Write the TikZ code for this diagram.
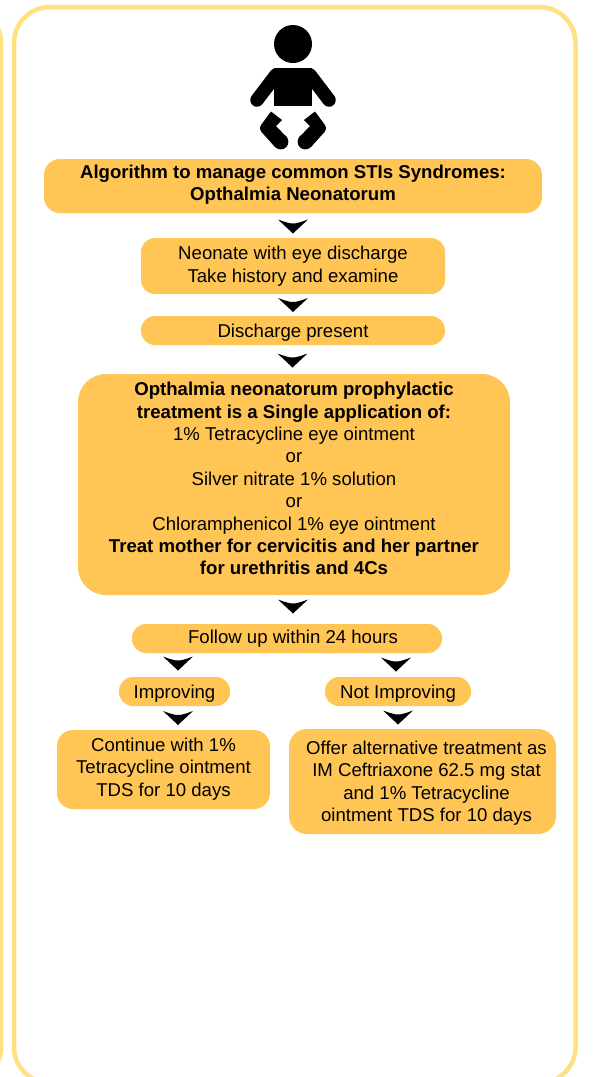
\documentclass[tikz,border=0pt]{standalone}
\usepackage{fontspec}
\setmainfont{Liberation Sans}
\usetikzlibrary{calc}
\definecolor{boxfill}{HTML}{FFC655}
\definecolor{frameline}{HTML}{FFE082}
\tikzset{
  x=1pt,y=-1pt,
  flowbox/.style={fill=boxfill,draw=none,inner sep=0pt,align=center,text=black,
    font=\fontsize{18.6}{22.4}\selectfont},
  lowtext/.style={text height=13pt,text depth=0pt},
  frame/.style={draw=frameline,line width=4.5pt,rounded corners=36pt},
  chevron/.pic={\fill[black] (-15,-7) .. controls (-8,-4.5) and (-4,-3) .. (0,-3) .. controls (4,-3) and (8,-4.5) .. (15,-7) -- (0,7) -- cycle;},
  limb/.style={line width=13.5pt,draw=black}
}
\begin{document}
\begin{tikzpicture}
\useasboundingbox (0,0) rectangle (595,1077);
\clip (0,0) rectangle (595,1077);
\fill[white] (0,0) rectangle (595,1077);
% frames
\draw[frame] (14,7) rectangle (575.5,1083);
\draw[frame] (-40,7) rectangle (1,1083);
% baby
\fill[black] (293,44) circle (19);
\fill[black] (274,106) -- (312,106) -- (312,68) -- (274,68) -- cycle;
\draw[limb,line cap=round,line join=round] (257,100) -- (276,75) -- (310,75) -- (329,100);
\fill[black] (271,111.5) -- (282,120) -- (276,126) -- (287,137.5) -- (275,147) -- (261.5,132) .. controls (259.5,129) and (259.5,127) .. (261,125) -- cycle;
\fill[black] (280.7,141.7) circle (7.7);
\fill[black] (315,111.5) -- (304,120) -- (310,126) -- (299,137.5) -- (311,147) -- (324.5,132) .. controls (326.5,129) and (326.5,127) .. (325,125) -- cycle;
\fill[black] (305.3,141.7) circle (7.7);
% boxes
\node[flowbox,minimum width=498pt,minimum height=54pt,rounded corners=16pt] (title) at (293,186) {\bfseries Algorithm to manage common STIs Syndromes:\\\bfseries Opthalmia Neonatorum\rule[-7pt]{0pt}{0pt}};
\node[flowbox,minimum width=304pt,minimum height=56pt,rounded corners=14pt] (neonate) at (293,266) {Neonate with eye discharge\\Take history and examine};
\node[flowbox,lowtext,minimum width=304pt,minimum height=29pt,rounded corners=14pt] (present) at (293,330.5) {Discharge present};
\node[flowbox,minimum width=432pt,minimum height=221pt,rounded corners=28pt] (treat) at (294,484.5) {\bfseries Opthalmia neonatorum prophylactic\\\bfseries treatment is a Single application of:\\1\% Tetracycline eye ointment\\or\\Silver nitrate 1\% solution\\or\\Chloramphenicol 1\% eye ointment\\\bfseries Treat mother for cervicitis and her partner\\\bfseries for urethritis and 4Cs\\[-10.4pt]\mbox{}};
\node[flowbox,minimum width=310pt,minimum height=29pt,rounded corners=14pt] (follow) at (287,638.5) {\hspace*{12pt}Follow up within 24 hours};
\node[flowbox,lowtext,minimum width=111pt,minimum height=29pt,rounded corners=14pt] (improving) at (174.5,691.5) {Improving};
\node[flowbox,lowtext,minimum width=146pt,minimum height=29pt,rounded corners=14pt] (notimproving) at (398,691.5) {Not Improving};
\node[flowbox,minimum width=213pt,minimum height=79pt,rounded corners=16pt] (continue) at (163.5,769.5) {Continue with 1\%\\Tetracycline ointment\\TDS for 10 days\\[-17.4pt]\mbox{}};
\node[flowbox,minimum width=267pt,minimum height=105pt,rounded corners=18pt] (offer) at (422.5,781.5) {\rule{0pt}{16.5pt}\hspace*{8pt}Offer alternative treatment as\\\hspace*{8pt}IM Ceftriaxone 62.5 mg stat\\\hspace*{8pt}and 1\% Tetracycline\\\hspace*{8pt}ointment TDS for 10 days};
% connectors (arrowheads between boxes)
\pic at ($(title.south)!.5!(neonate.north)+(0,1)$) {chevron};
\pic at ($(neonate.south)!.5!(present.north)$) {chevron};
\pic at ($(present.south)!.5!(treat.north)+(-1,1)$) {chevron};
\pic at ($(treat.south)!.5!(follow.north)+(2.5,-3)$) {chevron};
\pic at ($(follow.south -| improving.north)!.5!(improving.north)+(3.5,-1.5)$) {chevron};
\pic at ($(follow.south -| notimproving.north)!.5!(notimproving.north)+(-2,-.5)$) {chevron};
\pic at ($(improving.south)!.5!(continue.north -| improving.south)+(3.5,0)$) {chevron};
\pic at ($(notimproving.south)!.5!(offer.north -| notimproving.south)$) {chevron};
\end{tikzpicture}
\end{document}
